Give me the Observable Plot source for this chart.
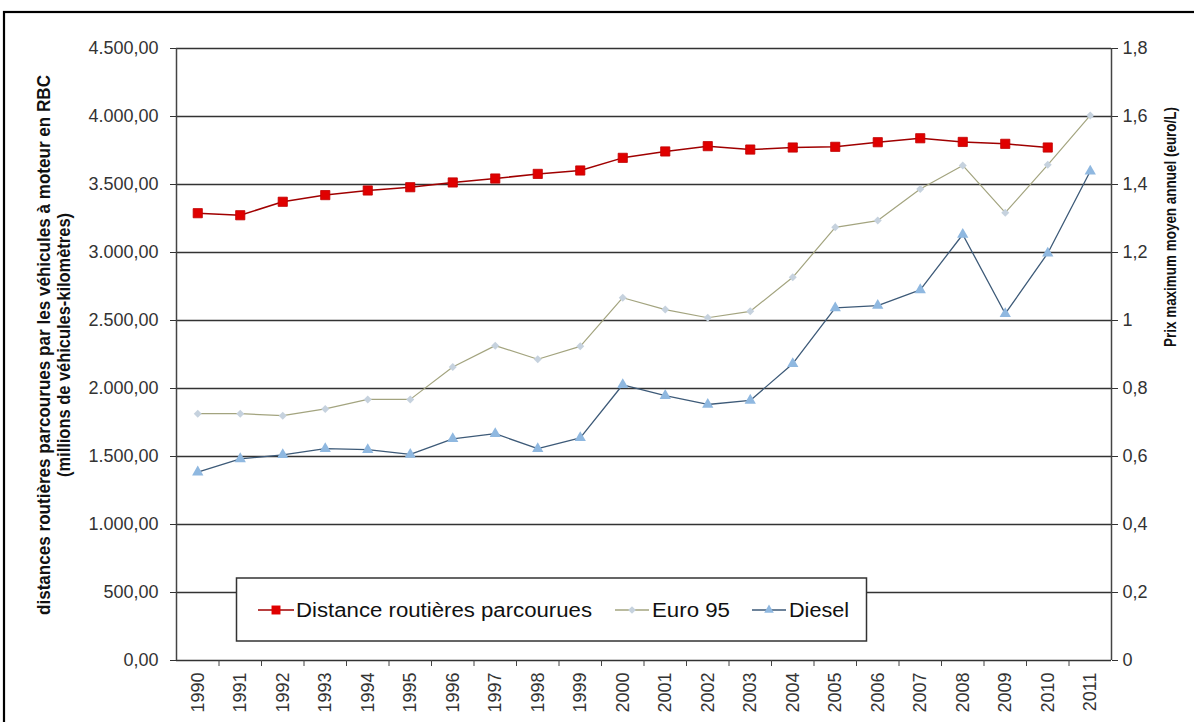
<!DOCTYPE html>
<html>
<head>
<meta charset="utf-8">
<script src="https://cdn.jsdelivr.net/npm/d3@7"></script>
<script src="https://cdn.jsdelivr.net/npm/@observablehq/plot@0.6"></script>
<style>
  html, body { margin: 0; padding: 0; background: #fff; }
  #chart { width: 1194px; height: 722px; overflow: hidden; }
</style>
</head>
<body>
<div id="chart"></div>
<script>
// ---- data ----
const years = [1990,1991,1992,1993,1994,1995,1996,1997,1998,1999,2000,2001,2002,2003,2004,2005,2006,2007,2008,2009,2010,2011];
const distance = [3289,3274,3373,3422,3456,3480,3515,3544,3578,3603,3696,3743,3782,3757,3772,3777,3811,3840,3813,3799,3772,null];
const euro95 = [0.726,0.726,0.720,0.740,0.768,0.768,0.863,0.926,0.886,0.924,1.067,1.032,1.008,1.027,1.127,1.274,1.294,1.387,1.456,1.317,1.458,1.603];
const diesel = [0.554,0.593,0.605,0.623,0.620,0.606,0.652,0.667,0.623,0.655,0.811,0.779,0.753,0.765,0.873,1.037,1.044,1.090,1.253,1.020,1.198,1.439];
const leftTicks = [0,500,1000,1500,2000,2500,3000,3500,4000,4500];
const rightMax = 1.8;
const leftMax = 4500;
const seriesNames = ["Distance routières parcourues", "Euro 95", "Diesel"];
const leftTitle1 = "distances routières parcourues par les véhicules à moteur en RBC";
const leftTitle2 = "(millions de véhicules-kilomètres)";
const rightTitle = "Prix maximum moyen annuel (euro/L)";

// ---- tables ----
const ratio = leftMax / rightMax;
const distData = years.map((y, i) => ({year: y, value: distance[i]})).filter(d => d.value != null);
const euroData = years.map((y, i) => ({year: y, value: euro95[i]}));
const dieselData = years.map((y, i) => ({year: y, value: diesel[i]}));
const bounds = years.map(y => y + 0.5).slice(0, -1);

const loc = d3.formatLocale({decimal: ",", thousands: ".", grouping: [3], currency: ["", "€"]});
const fmtLeft = loc.format(",.2f");
const fmtRight = loc.format(".1~f");

const C = {
  red: "#e00000", redLine: "#a00000",
  euroLine: "#a3a47f", euroDot: "#c6d2de",
  dieselLine: "#3d5a78", dieselDot: "#8fb8e0",
  grid: "#333", text: "#333"
};

const svg = Plot.plot({
  width: 1194, height: 722,
  marginLeft: 176, marginRight: 83, marginTop: 48, marginBottom: 62,
  style: {fontFamily: "Arial, 'Liberation Sans', sans-serif", background: "white", color: C.text},
  x: {type: "linear", domain: [1989.5, 2011.5]},
  y: {domain: [0, leftMax]},
  marks: [
    Plot.ruleY(leftTicks, {stroke: C.grid, strokeWidth: 1.6}),
    Plot.ruleX([1989.5, 2011.5], {stroke: "#444", strokeWidth: 1.5}),
    Plot.axisY({anchor: "left", ticks: leftTicks, tickSize: 6, tickPadding: 12, tickFormat: fmtLeft, label: null, fontSize: 18, color: C.text, style: {letterSpacing: "0.6px"}}),
    Plot.axisY({anchor: "right", ticks: leftTicks, tickSize: 6, tickPadding: 5, tickFormat: d => fmtRight(d / ratio), label: null, fontSize: 18, color: C.text, style: {letterSpacing: "0.6px"}}),
    Plot.axisX({ticks: years, tickSize: 0, tickPadding: 12, tickRotate: -90, tickFormat: d => String(d), label: null, fontSize: 18, color: C.text}),
    Plot.axisX({ticks: bounds, tickSize: 6, tickFormat: () => "", label: null, color: "#444"}),
    Plot.line(euroData, {x: "year", y: d => d.value * ratio, stroke: C.euroLine, strokeWidth: 1.2}),
    Plot.dot(euroData, {x: "year", y: d => d.value * ratio, symbol: "diamond2", r: 3.6, fill: C.euroDot, stroke: "none"}),
    Plot.line(dieselData, {x: "year", y: d => d.value * ratio, stroke: C.dieselLine, strokeWidth: 1.3}),
    Plot.dot(dieselData, {x: "year", y: d => d.value * ratio, symbol: "triangle", r: 4.2, fill: C.dieselDot, stroke: "none"}),
    Plot.line(distData, {x: "year", y: "value", stroke: C.redLine, strokeWidth: 1.5}),
    Plot.dot(distData, {x: "year", y: "value", symbol: "square", r: 5.2, fill: C.red, stroke: "#c00000", strokeWidth: 0.8})
  ]
});

const s = d3.select(svg);

// outer frame
s.append("rect").attr("x", 4).attr("y", 12).attr("width", 1300).attr("height", 800)
  .attr("fill", "none").attr("stroke", "#000").attr("stroke-width", 2.2);

// axis titles
const tg = s.append("g").attr("font-family", "Arial, 'Liberation Sans', sans-serif")
  .attr("font-weight", "bold").attr("fill", "#111").attr("text-anchor", "middle");
tg.append("text").attr("transform", "translate(50,345) rotate(-90)")
  .attr("font-size", 19)
  .attr("textLength", 540).attr("lengthAdjust", "spacingAndGlyphs")
  .text(leftTitle1);
tg.append("text").attr("transform", "translate(70,345) rotate(-90)")
  .attr("font-size", 19)
  .attr("textLength", 264).attr("lengthAdjust", "spacingAndGlyphs")
  .text(leftTitle2);
tg.append("text").attr("transform", "translate(1176,227) rotate(-90)")
  .attr("font-size", 17)
  .attr("textLength", 240).attr("lengthAdjust", "spacingAndGlyphs")
  .text(rightTitle);

// legend
const lg = s.append("g").attr("font-family", "Arial, 'Liberation Sans', sans-serif").attr("text-anchor", "start");
lg.append("rect").attr("x", 236.5).attr("y", 578).attr("width", 630).attr("height", 63)
  .style("fill", "#ffffff").style("stroke", "#333").style("stroke-width", "1.5px");
const items = [
  {name: seriesNames[0], x0: 258, x1: 294, tx: 296, tl: 296, line: C.redLine, sym: "square", fill: C.red, size: 80},
  {name: seriesNames[1], x0: 615, x1: 649, tx: 652, tl: 78, line: C.euroLine, sym: "diamond", fill: C.euroDot, size: 30},
  {name: seriesNames[2], x0: 752, x1: 786, tx: 789, tl: 60, line: C.dieselLine, sym: "triangle", fill: C.dieselDot, size: 40}
];
const symMap = {square: d3.symbolSquare, diamond: d3.symbolSquare, triangle: d3.symbolTriangle};
for (const it of items) {
  lg.append("line").attr("x1", it.x0).attr("x2", it.x1).attr("y1", 610).attr("y2", 610)
    .style("stroke", it.line).style("stroke-width", "1.5px");
  lg.append("path").attr("d", d3.symbol(symMap[it.sym], it.size)())
    .style("fill", it.fill)
    .attr("transform", `translate(${(it.x0 + it.x1) / 2},610)` + (it.sym === "diamond" ? " rotate(45)" : ""));
  lg.append("text").attr("x", it.tx).attr("y", 610).attr("dy", "0.36em")
    .attr("font-size", 20).style("fill", "#111").attr("text-anchor", "start")
    .attr("textLength", it.tl).attr("lengthAdjust", "spacingAndGlyphs")
    .text(it.name);
}

document.getElementById("chart").appendChild(svg);
</script>
</body>
</html>
